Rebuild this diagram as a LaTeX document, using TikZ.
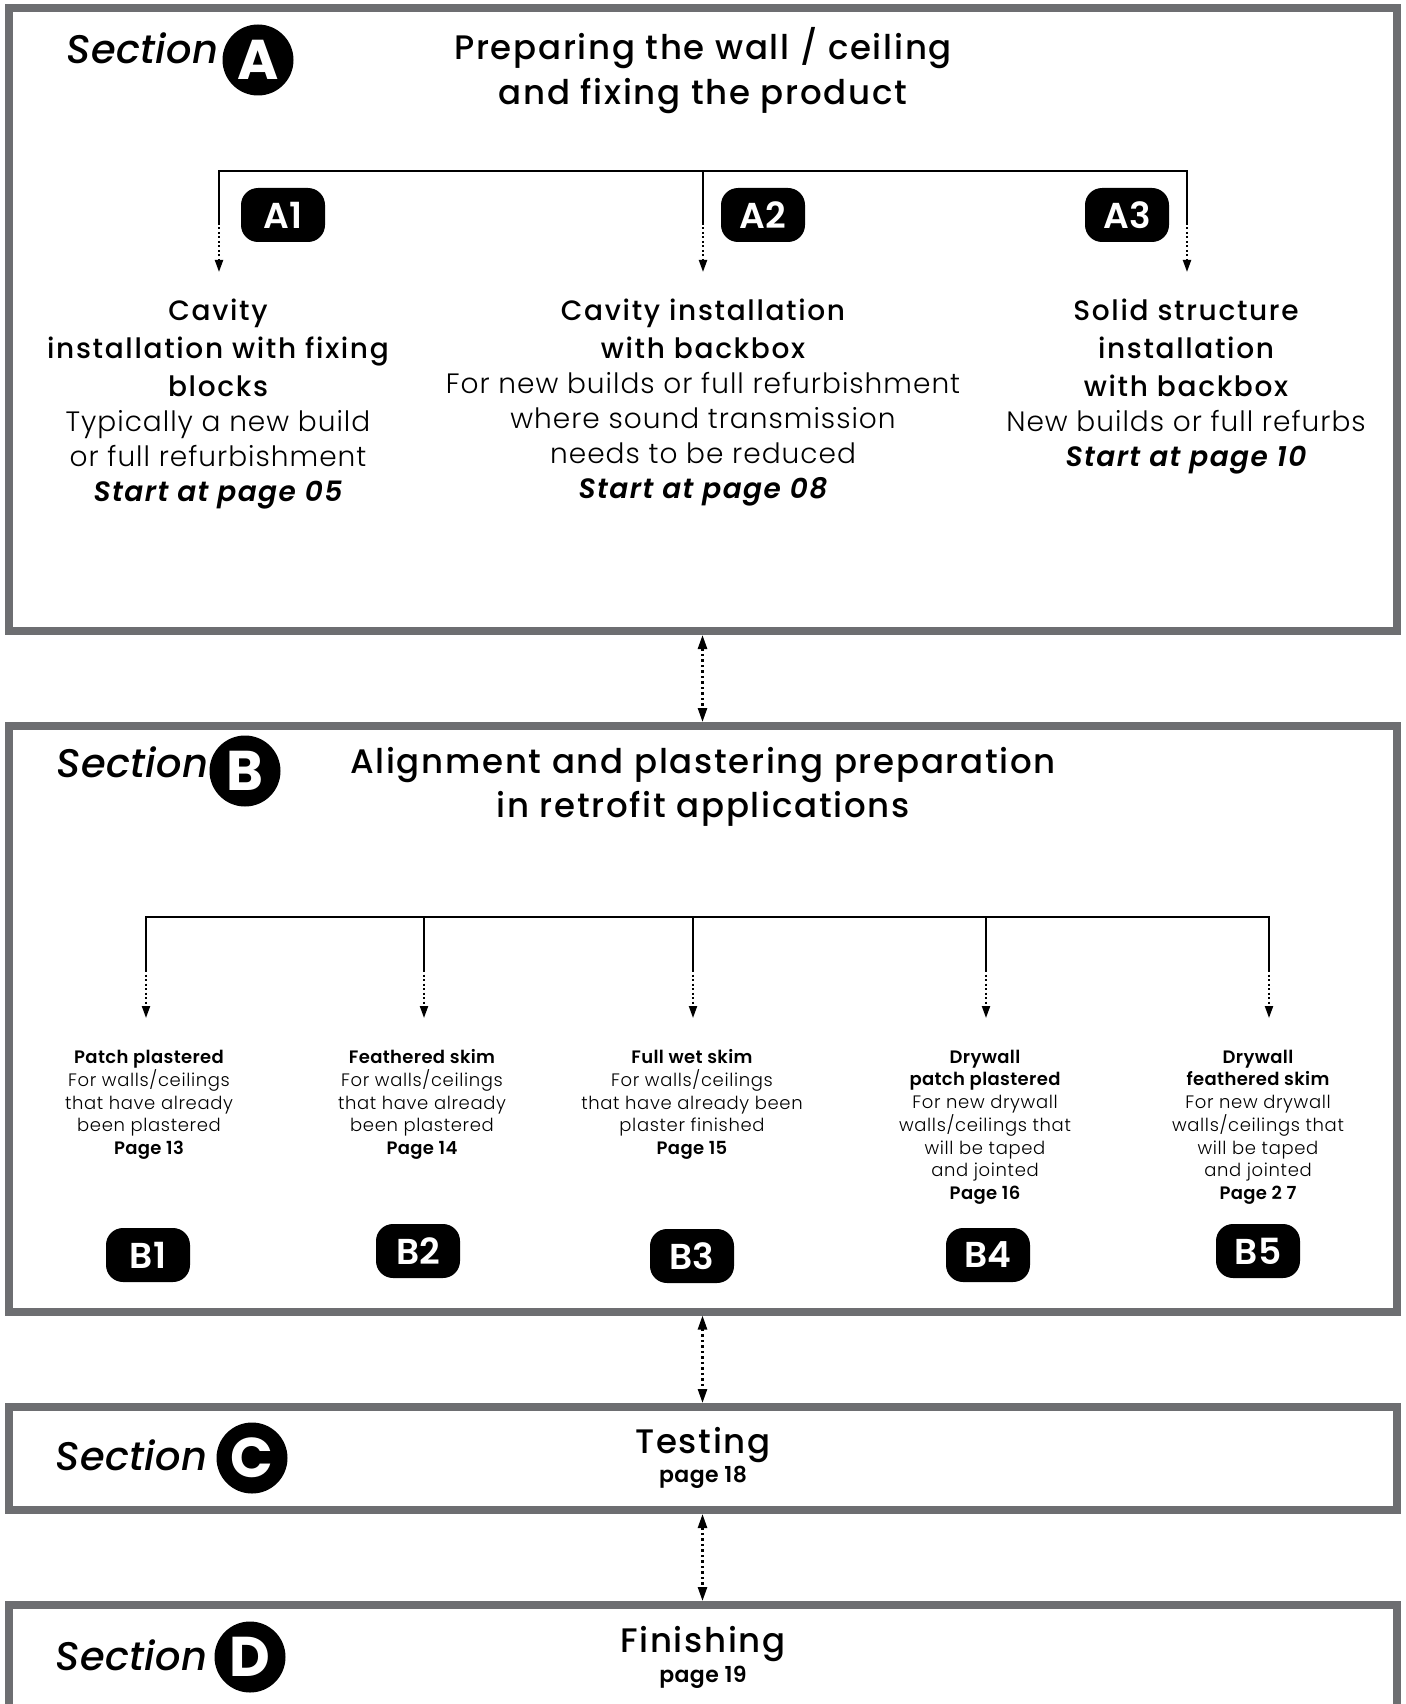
\documentclass[tikz,border=0pt]{standalone}
\usepackage{fontspec}
\usetikzlibrary{arrows.meta}
\newcommand\mkfam[4]{%
  \IfFontExistsTF{#2}{\newfontfamily#1[#4]{#2}}{%
    \IfFontExistsTF{#3}{\newfontfamily#1[#4]{#3}}{\newfontfamily#1[#4]{Poppins}}}}
\setmainfont{Poppins}
\mkfam\fttl{Poppins Medium}{Poppins}{LetterSpace=5}
\mkfam\fcolt{Poppins Medium}{Poppins}{LetterSpace=6}
\mkfam\fbody{Poppins Light}{Poppins}{LetterSpace=3.6}
\mkfam\fsec{Poppins Medium Italic}{Poppins Italic}{LetterSpace=1}
\mkfam\fstart{Poppins SemiBold Italic}{Poppins Bold Italic}{LetterSpace=5}
\mkfam\fsb{Poppins SemiBold}{Poppins Bold}{LetterSpace=2}
\mkfam\fbadge{Poppins SemiBold}{Poppins Bold}{}
\mkfam\fcirc{Poppins Bold}{Poppins}{}
\definecolor{secgray}{HTML}{6D6E71}
\begin{document}
\begin{tikzpicture}[x=1pt,y=-1pt,
  secbox/.style={draw=secgray,line width=8pt,fill=none,inner sep=0pt,rectangle},
  secconn/.style={line width=2.5pt,dash pattern=on 2.5pt off 3pt,{Triangle[length=14pt,width=9pt]}-{Triangle[length=14pt,width=9pt]}},
  bar/.style={line width=2.2pt,line cap=butt,line join=miter},
  drop/.style={line width=2pt,dash pattern=on 2pt off 2.5pt,-{Triangle[length=12pt,width=8pt]}},
  badge/.style={fill=black,text=white,rounded corners=17pt,minimum width=84pt,minimum height=54pt,inner sep=0pt,font={\fbadge\fontsize{36}{40}\selectfont}},
  seccirc/.style={circle,fill=black,text=white,minimum size=71pt,inner sep=0pt,font={\fcirc\fontsize{56}{60}\selectfont}},
  seclbl/.style={inner sep=0pt,font={\fsec\fontsize{40}{44}\selectfont}},
  ttl/.style={inner sep=0pt,font={\fttl\fontsize{34}{45}\selectfont}},
  acol/.style={inner sep=0pt,font={\fbody\fontsize{28}{35}\selectfont}},
  bcol/.style={inner sep=0pt,font={\fbody\fontsize{18}{22.5}\selectfont}},
  pagelbl/.style={inner sep=0pt,font={\fsb\fontsize{22}{26}\selectfont}}
]
\useasboundingbox (0,0) rectangle (1405,1704);
\clip (0,0) rectangle (1405,1704);
\fill[white] (0,0) rectangle (1405,1704);

% section boxes
\node[secbox,minimum width=1388pt,minimum height=623pt] (boxA) at (702.5,319.5) {};
\node[secbox,minimum width=1388pt,minimum height=585.5pt] (boxB) at (702.5,1018.75) {};
\node[secbox,minimum width=1388pt,minimum height=103pt] (boxC) at (702.5,1458.5) {};
\node[secbox,minimum width=1388pt,minimum height=155pt] (boxD) at (702.5,1682.5) {};

\draw[secconn] (boxA.south) -- (boxB.north);
\draw[secconn] (boxB.south) -- (boxC.north);
\draw[secconn] (boxC.south) -- (boxD.north);

% ---------- Section A ----------
\node[seclbl,anchor=base east] (secA) at (219,64) {Section};
\node[seccirc] (circA) at (258,60) {A};
\node[ttl,anchor=base] (titleA) at (703,60) {\begin{tabular}[t]{@{}c@{}}Preparing the wall / ceiling\\and fixing the product\end{tabular}};

\coordinate (jA1) at (219,171);
\coordinate (jA2) at (703,171);
\coordinate (jA3) at (1187,171);
\coordinate (mA1) at (219,223);
\coordinate (mA2) at (703,223);
\coordinate (mA3) at (1187,223);
\coordinate (tA1) at (219,272);
\coordinate (tA2) at (703,272);
\coordinate (tA3) at (1187,272);
\draw[bar] (mA1) -- (jA1) -- (jA3) -- (mA3);
\draw[bar] (jA2) -- (mA2);
\draw[drop] (mA1) -- (tA1);
\draw[drop] (mA2) -- (tA2);
\draw[drop] (mA3) -- (tA3);

\node[badge] (bA1) at (283,215) {A1};
\node[badge] (bA2) at (763,215) {A2};
\node[badge] (bA3) at (1127,215) {A3};

\node[acol,anchor=base] (cA1) at (218,320) {\begin{tabular}[t]{@{}c@{}}{\fcolt Cavity}\\[3pt]{\fcolt installation with fixing}\\[3pt]{\fcolt blocks}\\Typically a new build\\or full refurbishment\\{\fstart Start at page 05}\end{tabular}};
\node[acol,anchor=base] (cA2) at (703,320) {\begin{tabular}[t]{@{}c@{}}{\fcolt Cavity installation}\\[3pt]{\fcolt with backbox}\\For new builds or full refurbishment\\where sound transmission\\needs to be reduced\\{\fstart Start at page 08}\end{tabular}};
\node[acol,anchor=base] (cA3) at (1186,320) {\begin{tabular}[t]{@{}c@{}}{\fcolt Solid structure}\\[3pt]{\fcolt installation}\\[3pt]{\fcolt with backbox}\\New builds or full refurbs\\{\fstart Start at page 10}\end{tabular}};

% ---------- Section B ----------
\node[seclbl,anchor=base east] (secB) at (209,777) {Section};
\node[seccirc] (circB) at (245,771) {B};
\node[ttl,anchor=base] (titleB) at (703,773) {\begin{tabular}[t]{@{}c@{}}Alignment and plastering preparation\\[-1pt]in retrofit applications\end{tabular}};

\coordinate (jB1) at (146,917);
\coordinate (jB2) at (424,917);
\coordinate (jB3) at (693,917);
\coordinate (jB4) at (986,917);
\coordinate (jB5) at (1269,917);
\foreach \i/\x in {1/146,2/424,3/693,4/986,5/1269}{
  \coordinate (mB\i) at (\x,970);
  \coordinate (tB\i) at (\x,1018);
}
\draw[bar,line width=2.6pt] (mB1) -- (jB1) -- (jB5) -- (mB5);
\draw[bar,line width=2pt] (jB2) -- (mB2);
\draw[bar,line width=2pt] (jB3) -- (mB3);
\draw[bar,line width=2pt] (jB4) -- (mB4);
\draw[drop] (mB1) -- (tB1);
\draw[drop] (mB2) -- (tB2);
\draw[drop] (mB3) -- (tB3);
\draw[drop] (mB4) -- (tB4);
\draw[drop] (mB5) -- (tB5);

\node[bcol,anchor=base] (cB1) at (149,1063) {\begin{tabular}[t]{@{}c@{}}{\fsb Patch plastered}\\For walls/ceilings\\that have already\\been plastered\\{\fsb Page 13}\end{tabular}};
\node[bcol,anchor=base] (cB2) at (422,1063) {\begin{tabular}[t]{@{}c@{}}{\fsb Feathered skim}\\For walls/ceilings\\that have already\\been plastered\\{\fsb Page 14}\end{tabular}};
\node[bcol,anchor=base] (cB3) at (692,1063) {\begin{tabular}[t]{@{}c@{}}{\fsb Full wet skim}\\For walls/ceilings\\that have already been\\plaster finished\\{\fsb Page 15}\end{tabular}};
\node[bcol,anchor=base] (cB4) at (985,1063) {\begin{tabular}[t]{@{}c@{}}{\fsb Drywall}\\{\fsb patch plastered}\\For new drywall\\walls/ceilings that\\will be taped\\and jointed\\{\fsb Page 16}\end{tabular}};
\node[bcol,anchor=base] (cB5) at (1258,1063) {\begin{tabular}[t]{@{}c@{}}{\fsb Drywall}\\{\fsb feathered skim}\\For new drywall\\walls/ceilings that\\will be taped\\and jointed\\{\fsb Page 2 7}\end{tabular}};

\node[badge] (bB1) at (148,1255) {B1};
\node[badge] (bB2) at (418,1251) {B2};
\node[badge] (bB3) at (692,1256) {B3};
\node[badge] (bB4) at (988,1255) {B4};
\node[badge] (bB5) at (1258,1251) {B5};

% ---------- Section C ----------
\node[seclbl,anchor=base east] (secC) at (208,1470) {Section};
\node[seccirc] (circC) at (252,1458) {C};
\node[ttl,anchor=base] (titleC) at (703,1453) {Testing};
\node[pagelbl,anchor=base] (pageC) at (703,1482) {page 18};

% ---------- Section D ----------
\node[seclbl,anchor=base east] (secD) at (208,1670) {Section};
\node[seccirc] (circD) at (250,1657) {D};
\node[ttl,anchor=base] (titleD) at (703,1652) {Finishing};
\node[pagelbl,anchor=base] (pageD) at (703,1682) {page 19};
\end{tikzpicture}
\end{document}
